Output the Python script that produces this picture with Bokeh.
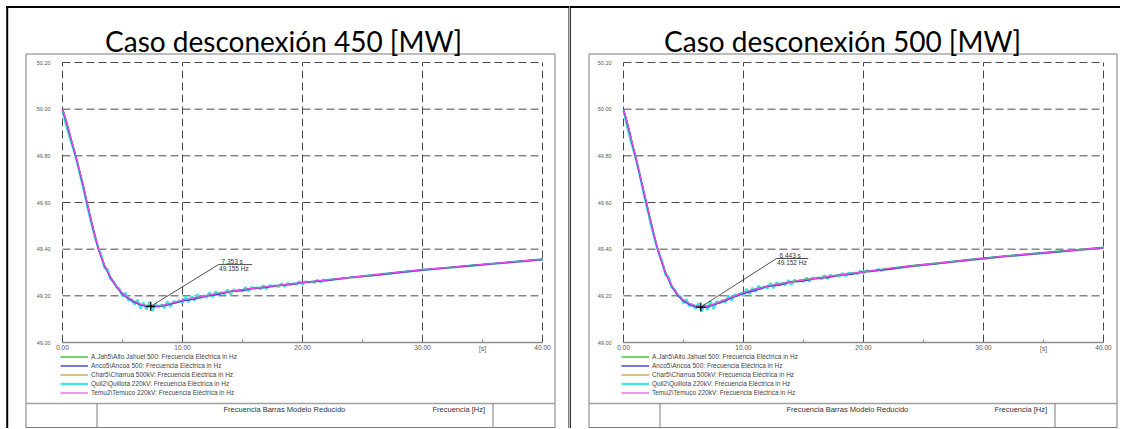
from bokeh.plotting import figure
from bokeh.layouts import row
from bokeh.models import Range1d, Legend, LegendItem
from bokeh.core.properties import value
from bokeh.embed import file_html
from bokeh.resources import INLINE

# ---------------- data ----------------
PANEL_TITLES = ["Caso desconexión 450 [MW]", "Caso desconexión 500 [MW]"]
SERIES_LABELS = [
    "A.Jah5\\Alto Jahuel 500: Frecuencia Eléctrica in Hz",
    "Anco5\\Ancoa 500: Frecuencia Eléctrica in Hz",
    "Char5\\Charrua 500kV: Frecuencia Eléctrica in Hz",
    "Quil2\\Quillota 220kV: Frecuencia Eléctrica in Hz",
    "Temu2\\Temuco 220kV: Frecuencia Eléctrica in Hz",
]
FOOTER_TITLE = "Frecuencia Barras Modelo Reducido"
FOOTER_UNIT = "Frecuencia [Hz]"
X_UNIT = "[s]"
X_TICKS = [0, 10, 20, 30, 40]
X_MINOR_TICKS = [5, 15, 25, 35]
Y_TICKS = [49.0, 49.2, 49.4, 49.6, 49.8, 50.0, 50.2]

# time base [s] of the smooth series
T = [0, 0.25, 0.5, 0.75, 1, 1.25, 1.5, 1.75, 2, 2.25, 2.5, 2.75, 3, 3.5, 4, 4.5,
     5, 5.5, 6, 6.5, 7, 7.5, 8, 8.5, 9, 9.5, 10, 11, 12, 13, 14, 15, 16, 17, 18,
     19, 20, 22, 24, 26, 28, 30, 32, 34, 36, 38, 40]
# time base [s] of the oscillating Quillota series
TC = [0, 0.25, 0.5, 0.75, 1, 1.25, 1.5, 1.75, 2, 2.25, 2.5, 2.75, 3, 3.25, 3.5, 3.75,
      4, 4.25, 4.5, 4.75, 5, 5.25, 5.5, 5.75, 6, 6.25, 6.5, 6.75, 7, 7.25, 7.5, 7.75,
      8, 8.25, 8.5, 8.75, 9, 9.25, 9.5, 9.75, 10, 10.25, 10.5, 10.75, 11, 11.25, 11.5,
      11.75, 12, 12.25, 12.5, 12.75, 13, 13.25, 13.5, 13.75, 14, 14.25, 14.5, 14.75,
      15, 15.25, 15.5, 15.75, 16, 16.25, 16.5, 16.75, 17, 17.25, 17.5, 17.75, 18,
      18.25, 18.5, 18.75, 19, 19.25, 19.5, 19.75, 20, 20.25, 20.5, 20.75, 21, 21.25,
      21.5, 21.75, 22, 24, 26, 28, 30, 32, 34, 36, 38, 40]

# ---- case 450 MW ----
F450_AJAH = [50.000, 49.950, 49.908, 49.862, 49.818, 49.770, 49.718, 49.668, 49.610, 49.556,
             49.502, 49.452, 49.402, 49.332, 49.281, 49.241, 49.211, 49.191, 49.176, 49.164,
             49.158, 49.156, 49.157, 49.161, 49.167, 49.174, 49.181, 49.191, 49.201, 49.211,
             49.219, 49.227, 49.233, 49.239, 49.245, 49.251, 49.257, 49.268, 49.279, 49.290,
             49.301, 49.312, 49.321, 49.330, 49.339, 49.348, 49.357]
F450_ANCO = [50.000, 49.958, 49.912, 49.863, 49.816, 49.768, 49.716, 49.666, 49.606, 49.552,
             49.497, 49.447, 49.397, 49.328, 49.277, 49.238, 49.207, 49.188, 49.172, 49.161,
             49.154, 49.153, 49.155, 49.158, 49.165, 49.171, 49.179, 49.186, 49.200, 49.206,
             49.219, 49.223, 49.233, 49.236, 49.245, 49.248, 49.257, 49.266, 49.279, 49.288,
             49.300, 49.311, 49.320, 49.329, 49.338, 49.347, 49.356]
F450_CHAR = [50.000, 49.962, 49.918, 49.868, 49.822, 49.772, 49.722, 49.672, 49.612, 49.557,
             49.502, 49.451, 49.401, 49.331, 49.280, 49.240, 49.209, 49.189, 49.174, 49.162,
             49.156, 49.154, 49.155, 49.159, 49.165, 49.172, 49.179, 49.189, 49.199, 49.209,
             49.217, 49.225, 49.231, 49.237, 49.243, 49.249, 49.255, 49.266, 49.277, 49.288,
             49.299, 49.310, 49.319, 49.328, 49.337, 49.346, 49.355]
F450_TEMU = [50.000, 49.961, 49.916, 49.866, 49.821, 49.771, 49.721, 49.671, 49.611, 49.556,
             49.501, 49.451, 49.401, 49.331, 49.281, 49.241, 49.211, 49.191, 49.176, 49.164,
             49.158, 49.156, 49.157, 49.161, 49.167, 49.174, 49.181, 49.191, 49.201, 49.211,
             49.219, 49.227, 49.233, 49.239, 49.245, 49.251, 49.257, 49.268, 49.279, 49.290,
             49.301, 49.312, 49.321, 49.330, 49.339, 49.348, 49.357]
F450_QUIL = [50.000, 49.942, 49.895, 49.853, 49.814, 49.766, 49.712, 49.658, 49.600, 49.543,
             49.492, 49.444, 49.404, 49.371, 49.320, 49.315, 49.272, 49.262, 49.238, 49.230,
             49.198, 49.213, 49.180, 49.186, 49.163, 49.184, 49.145, 49.172, 49.141, 49.174,
             49.135, 49.165, 49.152, 49.161, 49.148, 49.177, 49.152, 49.177, 49.171, 49.180,
             49.168, 49.197, 49.173, 49.198, 49.180, 49.205, 49.191, 49.200, 49.192, 49.215,
             49.193, 49.218, 49.207, 49.214, 49.206, 49.226, 49.206, 49.228, 49.220, 49.226,
             49.220, 49.237, 49.219, 49.238, 49.230, 49.236, 49.228, 49.246, 49.229, 49.246,
             49.239, 49.245, 49.238, 49.254, 49.239, 49.254, 49.248, 49.254, 49.248, 49.262,
             49.249, 49.261, 49.258, 49.261, 49.257, 49.268, 49.259, 49.269, 49.267,
             49.278, 49.289, 49.300, 49.311, 49.320, 49.329, 49.338, 49.347, 49.356]
MIN450_T = 7.353
MIN450_F = 49.155

# ---- case 500 MW ----
F500_AJAH = [50.000, 49.946, 49.897, 49.846, 49.797, 49.744, 49.688, 49.634, 49.580, 49.526,
             49.472, 49.422, 49.377, 49.302, 49.247, 49.207, 49.182, 49.167, 49.158, 49.154,
             49.157, 49.165, 49.174, 49.184, 49.195, 49.205, 49.214, 49.230, 49.242, 49.252,
             49.261, 49.269, 49.276, 49.283, 49.290, 49.297, 49.304, 49.317, 49.329, 49.340,
             49.351, 49.362, 49.372, 49.381, 49.390, 49.399, 49.408]
F500_ANCO = [50.000, 49.953, 49.902, 49.848, 49.796, 49.742, 49.686, 49.631, 49.576, 49.521,
             49.467, 49.417, 49.372, 49.297, 49.242, 49.202, 49.177, 49.162, 49.153, 49.149,
             49.152, 49.161, 49.170, 49.180, 49.191, 49.201, 49.210, 49.224, 49.241, 49.246,
             49.260, 49.263, 49.275, 49.278, 49.289, 49.292, 49.303, 49.313, 49.328, 49.337,
             49.349, 49.360, 49.370, 49.379, 49.388, 49.397, 49.406]
F500_CHAR = [50.000, 49.957, 49.907, 49.853, 49.802, 49.747, 49.692, 49.637, 49.582, 49.526,
             49.471, 49.421, 49.376, 49.301, 49.245, 49.204, 49.179, 49.164, 49.155, 49.151,
             49.154, 49.162, 49.171, 49.181, 49.192, 49.202, 49.211, 49.227, 49.239, 49.249,
             49.258, 49.266, 49.273, 49.280, 49.287, 49.294, 49.301, 49.314, 49.326, 49.337,
             49.348, 49.359, 49.369, 49.378, 49.387, 49.396, 49.405]
F500_TEMU = [50.000, 49.956, 49.906, 49.851, 49.801, 49.746, 49.691, 49.636, 49.581, 49.526,
             49.471, 49.421, 49.376, 49.301, 49.246, 49.206, 49.181, 49.166, 49.157, 49.153,
             49.156, 49.164, 49.173, 49.183, 49.194, 49.204, 49.213, 49.229, 49.241, 49.251,
             49.260, 49.268, 49.275, 49.282, 49.289, 49.296, 49.303, 49.316, 49.328, 49.339,
             49.350, 49.361, 49.371, 49.380, 49.389, 49.398, 49.407]
F500_QUIL = [50.000, 49.937, 49.885, 49.838, 49.794, 49.741, 49.682, 49.623, 49.570, 49.513,
             49.462, 49.414, 49.379, 49.343, 49.290, 49.282, 49.237, 49.227, 49.203, 49.197,
             49.168, 49.186, 49.155, 49.164, 49.144, 49.169, 49.134, 49.165, 49.139, 49.177,
             49.143, 49.177, 49.168, 49.180, 49.170, 49.201, 49.179, 49.206, 49.201, 49.211,
             49.200, 49.230, 49.208, 49.234, 49.218, 49.243, 49.230, 49.239, 49.232, 49.255,
             49.233, 49.258, 49.247, 49.254, 49.247, 49.267, 49.247, 49.269, 49.261, 49.267,
             49.261, 49.278, 49.261, 49.279, 49.272, 49.278, 49.271, 49.288, 49.272, 49.289,
             49.283, 49.288, 49.282, 49.298, 49.284, 49.298, 49.293, 49.299, 49.294, 49.307,
             49.295, 49.308, 49.304, 49.308, 49.305, 49.315, 49.307, 49.316, 49.315,
             49.327, 49.338, 49.349, 49.360, 49.370, 49.379, 49.388, 49.397, 49.406]
MIN500_T = 6.443
MIN500_F = 49.152

# ---------------- styles / layout (pixels) ----------------
COL_GREEN = "#22c322"
COL_BLUE = "#3c3ce6"
COL_ORANGE = "#c8964f"
COL_CYAN = "#45e5e5"
COL_MAGENTA = "#ee4cee"
GRID_COL = "#4a4a4a"
AXIS_COL = "#8a8a8a"
BOX_COL = "#7c7c7c"
FONT = "Liberation Sans"
H = 428
X_UNIT_AT = 35


def build(W, title, quil, ajah, anco, char, temu, t_min, f_min, L):
    p = figure(width=W, height=H, x_range=Range1d(0, W), y_range=Range1d(H, 0),
               title=None, x_axis_type=None, y_axis_type=None,
               min_border=0, min_border_left=0, min_border_right=0,
               min_border_top=0, min_border_bottom=0,
               output_backend="svg", toolbar_location=None)
    p.background_fill_color = "white"
    p.border_fill_color = "white"
    p.outline_line_color = None

    # data scales: place the chart's plot area inside the panel
    x0, x40, y_top, y_bot = L["plot"]
    sx = (x40 - x0) / (X_TICKS[-1] - X_TICKS[0])
    sy = (y_bot - y_top) / (Y_TICKS[-1] - Y_TICKS[0])
    p.extra_x_ranges = {"t": Range1d(X_TICKS[0] - x0 / sx, X_TICKS[0] + (W - x0) / sx)}
    p.extra_y_ranges = {"f": Range1d(Y_TICKS[0] - (H - y_bot) / sy, Y_TICKS[-1] + y_top / sy)}
    D = dict(x_range_name="t", y_range_name="f")

    # grid
    ny = len(Y_TICKS) - 1
    nx = len(X_TICKS)
    p.segment(x0=[X_TICKS[0]] * ny, y0=Y_TICKS[1:], x1=[X_TICKS[-1]] * ny, y1=Y_TICKS[1:],
              line_color=GRID_COL, line_dash="8 4", line_width=1, **D)
    p.segment(x0=X_TICKS, y0=[Y_TICKS[0]] * nx, x1=X_TICKS, y1=[Y_TICKS[-1]] * nx,
              line_color=GRID_COL, line_dash="8 4", line_width=1, **D)
    # x axis
    p.segment(x0=[X_TICKS[0]], y0=[Y_TICKS[0]], x1=[X_TICKS[-1]], y1=[Y_TICKS[0]],
              line_color=AXIS_COL, line_width=1.5, **D)
    p.ray(x=X_MINOR_TICKS, y=[Y_TICKS[0]] * len(X_MINOR_TICKS), length=3,
          length_units="screen", angle=90, angle_units="deg", line_color=AXIS_COL,
          line_width=1, **D)
    p.text(x=X_TICKS, y=[Y_TICKS[0]] * nx, text=[f"{v:.2f}" for v in X_TICKS],
           text_align="center", text_baseline="top", y_offset=2, text_font=value(FONT),
           text_font_size="6.5px", text_color="#555555", **D)
    p.text(x=[X_UNIT_AT], y=[Y_TICKS[0]], text=[X_UNIT], text_align="center",
           text_baseline="top", y_offset=2, text_font=value(FONT), text_font_size="6.5px",
           text_color="#555555", **D)
    p.text(x=[X_TICKS[0]] * len(Y_TICKS), y=Y_TICKS, text=[f"{v:.2f}" for v in Y_TICKS],
           text_align="right", text_baseline="middle", x_offset=-12, text_font=value(FONT),
           text_font_size="5.5px", text_color="#555555", **D)

    # curves
    r_q = p.line(TC, quil, line_color=COL_CYAN, line_width=2.4, **D)
    r_g = p.line(T, ajah, line_color=COL_GREEN, line_width=1.3, **D)
    r_c = p.line(T, char, line_color=COL_ORANGE, line_width=1.3, **D)
    r_a = p.line(T, anco, line_color=COL_BLUE, line_width=1.4, **D)
    r_t = p.line(T, temu, line_color=COL_MAGENTA, line_width=1.2, **D)

    legend = Legend(items=[LegendItem(label=SERIES_LABELS[0], renderers=[r_g]),
                           LegendItem(label=SERIES_LABELS[1], renderers=[r_a]),
                           LegendItem(label=SERIES_LABELS[2], renderers=[r_c]),
                           LegendItem(label=SERIES_LABELS[3], renderers=[r_q]),
                           LegendItem(label=SERIES_LABELS[4], renderers=[r_t])],
                    location=(L["legend_x"], H - 396.5), padding=0, margin=0, spacing=0,
                    glyph_width=28, glyph_height=9, label_height=9, label_standoff=3,
                    label_text_font=FONT, label_text_font_size="6.5px",
                    label_text_color="#444444", border_line_color=None,
                    background_fill_alpha=0)
    p.add_layout(legend)

    # minimum marker and callout
    ax1, ay, ax2 = L["ann"]
    p.segment(x0=[t_min], y0=[f_min], x1=[ax1], y1=[ay], line_color="#222222",
              line_width=0.8, **D)
    p.segment(x0=[ax1], y0=[ay], x1=[ax2], y1=[ay], line_color="#222222",
              line_width=0.8, **D)
    p.scatter([t_min], [f_min], marker="cross", size=9, line_color="black",
              line_width=1.2, **D)
    p.text(x=[ax1 + 0.25], y=[ay], text=[f"{t_min:.3f} s"], text_baseline="bottom",
           y_offset=0, text_font=value(FONT), text_font_size="6.5px",
           text_color="#333333", **D)
    p.text(x=[ax1 + 0.05], y=[ay], text=[f"{f_min:.3f} Hz"], text_baseline="top",
           y_offset=0, text_font=value(FONT), text_font_size="6.5px",
           text_color="#333333", **D)

    # chart image frame and footer table (panel pixels)
    bl, br = L["box"]
    p.quad(left=[bl], right=[br], top=[53.5], bottom=[427], fill_color=None,
           line_color=BOX_COL, line_width=1)
    p.segment(x0=[bl], y0=[403], x1=[br], y1=[403], line_color="#a0a0a0", line_width=1.5)
    fv = L["footer_v"]
    p.segment(x0=list(fv), y0=[403] * len(fv), x1=list(fv), y1=[427] * len(fv),
              line_color=BOX_COL, line_width=1)
    p.text(x=list(L["footer_x"]), y=[409, 409], text=[FOOTER_TITLE, FOOTER_UNIT],
           text_baseline="middle", text_font=value(FONT), text_font_size="7.5px",
           text_color="#333333")

    # outer table borders (black)
    p.segment(x0=[L["top_x0"]], y0=[6.5], x1=[W], y1=[6.5], line_color="black", line_width=2)
    for vx, vw in L["black_v"]:
        p.segment(x0=[vx], y0=[5.5], x1=[vx], y1=[H], line_color="black", line_width=vw)

    # panel title
    p.text(x=[L["title_x"]], y=[40], text=[title], text_align="center",
           text_baseline="alphabetic", text_font=value("Lato"), text_font_size="28px",
           text_color="black")
    return p


left = build(569, PANEL_TITLES[0], F450_QUIL, F450_AJAH, F450_ANCO, F450_CHAR, F450_TEMU,
             MIN450_T, MIN450_F,
             dict(plot=(62, 542, 62, 342), ann=(13.0, 49.334, 15.8), box=(25.5, 554.5),
                  footer_v=(96.5, 492.5), footer_x=(223, 432), legend_x=60,
                  top_x0=5.5, black_v=((6.7, 2), (568.5, 1)), title_x=283))
right = build(551, PANEL_TITLES[1], F500_QUIL, F500_AJAH, F500_ANCO, F500_CHAR, F500_TEMU,
              MIN500_T, MIN500_F,
              dict(plot=(54, 534, 62, 342), ann=(12.75, 49.36, 15.4), box=(19.5, 547.5),
                   footer_v=(90.5, 485.5), footer_x=(217, 425), legend_x=52,
                   top_x0=0, black_v=((0.65, 1.3),), title_x=273))

layout = row(left, right, spacing=0)
with open("out.html", "w", encoding="utf-8") as f:
    f.write(file_html(layout, INLINE))
